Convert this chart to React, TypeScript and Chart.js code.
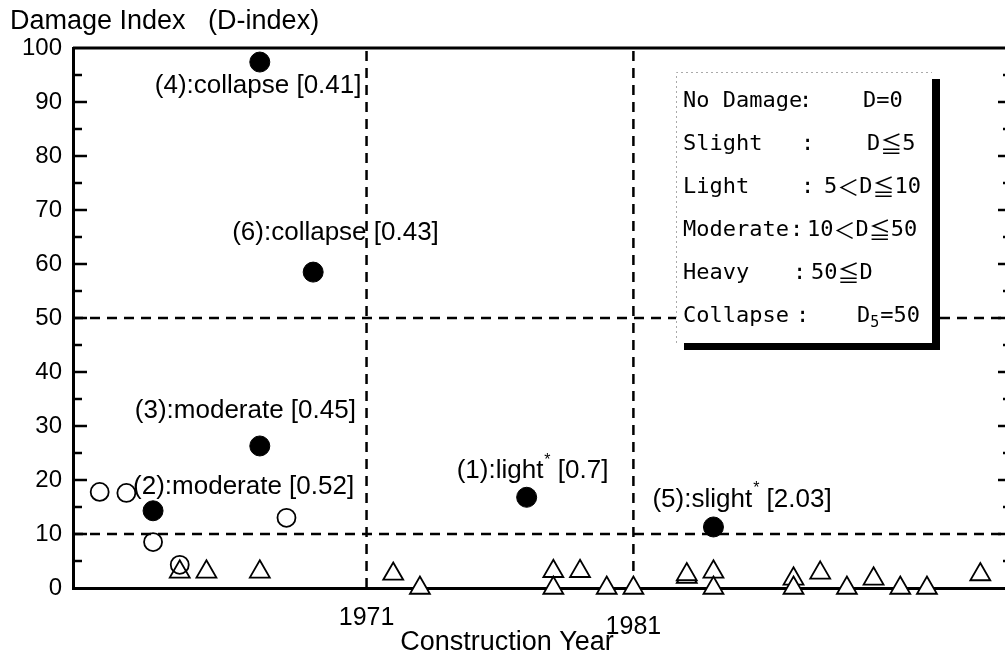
import React, { useEffect, useRef } from 'react';
import { Chart, registerables } from 'chart.js';

Chart.register(...registerables);

// ---------- data ----------
const X_MIN = 1960;
const X_MAX = 1995;
const X_TICKS = [1971, 1981];
const Y_MIN = 0;
const Y_MAX = 100;
const Y_STEP = 10;
const REF_YEARS = [1971, 1981];
const REF_D = [10, 50];

// damaged buildings (filled circles, labelled)
const SEVERE_YEARS = [1967, 1969, 1967, 1963, 1977, 1984];
const SEVERE_D = [97.4, 58.5, 26.3, 14.3, 16.8, 11.3];
const SEVERE_IDS = ['(4)', '(6)', '(3)', '(2)', '(1)', '(5)'];
const SEVERE_GRADES = ['collapse', 'collapse', 'moderate', 'moderate', 'light', 'slight'];
const SEVERE_STARRED = [false, false, false, false, true, true];
const SEVERE_RATIOS = ['0.41', '0.43', '0.45', '0.52', '0.7', '2.03'];

// open circles
const OPEN_YEARS = [1961, 1962, 1963, 1968, 1964];
const OPEN_D = [17.8, 17.6, 8.5, 13.0, 4.3];

// open triangles
const TRI_YEARS = [1964, 1965, 1967, 1972, 1973, 1978, 1978, 1979, 1980, 1981, 1983, 1983, 1984, 1984, 1987, 1987, 1988, 1989, 1990, 1991, 1992, 1994];
const TRI_D = [3.0, 3.0, 3.0, 2.6, 0, 3.1, 0, 3.1, 0, 0, 2.0, 2.5, 3.0, 0, 1.7, 0, 2.8, 0, 1.7, 0, 0, 2.5];

// legend text
const LEGEND_NAMES = ['No Damage', 'Slight', 'Light', 'Moderate', 'Heavy', 'Collapse'];
const LEGEND_RULES = ['D=0', 'D≦5', '5＜D≦10', '10＜D≦50', '50≦D', 'D₅=50'];

const Y_TITLE = 'Damage Index   (D-index)';
const X_TITLE = 'Construction Year';

// ---------- styles / layout ----------
const SANS = '"Liberation Sans", Arial, Helvetica, sans-serif';
const MONO = '"DejaVu Sans Mono", "Liberation Mono", monospace';
const CJK = '"Noto Sans CJK JP", "Noto Sans CJK SC", sans-serif';
const LABEL_OFFSETS: [number, number][] = [[-105, 24], [-81, -39], [-125, -35], [-20, -24], [-70, -26], [-61, -27]];
const LEGEND_COLON_X = [799, 801, 801, 790, 793, 796];
const LEGEND_RULE_X = [863, 867, 824, 807, 811, 857];

function drawMixed(ctx: CanvasRenderingContext2D, text: string, x: number, y: number, size: number) {
  let cx = x;
  for (const ch of Array.from(text)) {
    if (ch === '₅') {
      ctx.font = `${Math.round(size * 0.68)}px ${MONO}`;
      ctx.fillText('5', cx, y + 7);
      cx += ctx.measureText('5').width + 1;
      continue;
    }
    const wide = ch === '≦' || ch === '＜';
    ctx.font = wide ? `${size}px ${CJK}` : `${size}px ${MONO}`;
    ctx.fillText(ch, cx, y);
    cx += ctx.measureText(ch).width;
  }
}

const framePlugin = {
  id: 'frame',
  beforeDatasetsDraw(chart: any) {
    const { ctx, chartArea: a, scales } = chart;
    const x = scales.x;
    const y = scales.y;
    ctx.save();
    ctx.strokeStyle = '#000';
    ctx.lineWidth = 2.5;
    ctx.setLineDash([10, 7]);
    REF_D.forEach((v) => {
      const py = y.getPixelForValue(v);
      ctx.beginPath();
      ctx.moveTo(a.left, py);
      ctx.lineTo(a.right, py);
      ctx.stroke();
    });
    REF_YEARS.forEach((v) => {
      const px = x.getPixelForValue(v);
      ctx.beginPath();
      ctx.moveTo(px, a.bottom);
      ctx.lineTo(px, a.top);
      ctx.stroke();
    });
    ctx.setLineDash([]);
    ctx.lineWidth = 3;
    ctx.beginPath();
    ctx.moveTo(a.left, a.top);
    ctx.lineTo(a.right, a.top);
    ctx.stroke();
    ctx.lineWidth = 2.5;
    for (let v = Y_MIN + Y_STEP / 2; v < Y_MAX; v += Y_STEP / 2) {
      const major = Math.abs(v % Y_STEP) < 1e-6;
      const py = y.getPixelForValue(v);
      ctx.beginPath();
      ctx.moveTo(a.left, py);
      ctx.lineTo(a.left + (major ? 14 : 9), py);
      ctx.stroke();
      ctx.beginPath();
      ctx.moveTo(a.right, py);
      ctx.lineTo(a.right - (major ? 9 : 4), py);
      ctx.stroke();
    }
    ctx.restore();
  },
};

const pointLabelPlugin = {
  id: 'pointLabels',
  afterDatasetsDraw(chart: any) {
    const { ctx } = chart;
    const meta = chart.getDatasetMeta(0);
    ctx.save();
    ctx.fillStyle = '#000';
    ctx.textBaseline = 'middle';
    ctx.textAlign = 'left';
    meta.data.forEach((el: any, i: number) => {
      const [dx, dy] = LABEL_OFFSETS[i];
      let tx = el.x + dx;
      const ty = el.y + dy;
      ctx.font = `26px ${SANS}`;
      const head = `${SEVERE_IDS[i]}:${SEVERE_GRADES[i]}`;
      ctx.fillText(head, tx, ty);
      tx += ctx.measureText(head).width;
      if (SEVERE_STARRED[i]) {
        ctx.font = `16px ${SANS}`;
        ctx.fillText('*', tx + 1, ty - 11);
        tx += ctx.measureText('*').width + 1;
        ctx.font = `26px ${SANS}`;
      }
      ctx.fillText(` [${SEVERE_RATIOS[i]}]`, tx, ty);
    });
    ctx.restore();
  },
};

const legendBoxPlugin = {
  id: 'legendBox',
  afterDraw(chart: any) {
    const { ctx } = chart;
    const L = 676, T = 72, W = 256, H = 271;
    ctx.save();
    ctx.fillStyle = '#000';
    ctx.fillRect(L + W, T + 7, 8, H);
    ctx.fillRect(L + 8, T + H, W, 7);
    ctx.fillStyle = '#fff';
    ctx.fillRect(L, T, W, H);
    ctx.strokeStyle = '#aaa';
    ctx.lineWidth = 1;
    ctx.setLineDash([2, 3]);
    ctx.beginPath();
    ctx.moveTo(L + 0.5, T + H);
    ctx.lineTo(L + 0.5, T + 0.5);
    ctx.lineTo(L + W, T + 0.5);
    ctx.stroke();
    ctx.setLineDash([]);
    ctx.fillStyle = '#000';
    ctx.textBaseline = 'middle';
    ctx.textAlign = 'left';
    LEGEND_NAMES.forEach((name, i) => {
      const ty = 101 + i * 43;
      ctx.font = `22px ${MONO}`;
      ctx.fillText(name, 683, ty);
      ctx.fillText(':', LEGEND_COLON_X[i], ty);
      drawMixed(ctx, LEGEND_RULES[i], LEGEND_RULE_X[i], ty, 22);
    });
    ctx.restore();
  },
};

const axisTitlePlugin = {
  id: 'xAxisTitle',
  afterDraw(chart: any) {
    const { ctx } = chart;
    ctx.save();
    ctx.fillStyle = '#000';
    ctx.font = `27px ${SANS}`;
    ctx.textAlign = 'center';
    ctx.textBaseline = 'middle';
    ctx.fillText(X_TITLE, 507, 643);
    ctx.restore();
  },
};

export default function App() {
  const ref = useRef<HTMLCanvasElement>(null);

  useEffect(() => {
    const severe = SEVERE_YEARS.map((x, i) => ({ x, y: SEVERE_D[i] }));
    const open = OPEN_YEARS.map((x, i) => ({ x, y: OPEN_D[i] }));
    const tri = TRI_YEARS.map((x, i) => ({ x, y: TRI_D[i] }));

    const chart = new Chart(ref.current as HTMLCanvasElement, {
      type: 'scatter',
      data: {
        datasets: [
          {
            label: 'damaged',
            data: severe,
            pointStyle: 'circle',
            pointRadius: 10,
            backgroundColor: '#000',
            borderColor: '#000',
            borderWidth: 1,
            clip: false as any,
            order: 1,
          },
          {
            label: 'open circles',
            data: open,
            pointStyle: 'circle',
            pointRadius: 9,
            backgroundColor: 'rgba(255,255,255,0)',
            borderColor: '#000',
            borderWidth: 1.8,
            clip: false as any,
            order: 2,
          },
          {
            label: 'triangles',
            data: tri,
            pointStyle: 'triangle',
            pointRadius: 11.5,
            backgroundColor: '#fff',
            borderColor: '#000',
            borderWidth: 1.8,
            clip: false as any,
            order: 3,
          },
        ],
      },
      options: {
        responsive: false,
        animation: false,
        devicePixelRatio: 1,
        events: [],
        layout: { padding: { left: 10, right: 8, top: 0, bottom: 0 }, autoPadding: false } as any,
        plugins: {
          legend: { display: false },
          tooltip: { enabled: false },
          title: {
            display: true,
            text: Y_TITLE,
            align: 'start',
            color: '#000',
            font: { family: SANS, size: 27, weight: 'normal', lineHeight: 1.2 },
            padding: { top: 5, bottom: 10.6 },
          },
        },
        scales: {
          x: {
            type: 'linear',
            min: X_MIN,
            max: X_MAX,
            afterBuildTicks: (s: any) => {
              s.ticks = X_TICKS.map((v) => ({ value: v }));
            },
            afterFit: (s: any) => {
              s.height = 72;
            },
            grid: { display: false, drawTicks: false },
            border: { display: true, color: '#000', width: 3 },
            ticks: {
              color: '#000',
              padding: 15,
              autoSkip: false,
              maxRotation: 0,
              font: (c: any) => ({ family: SANS, size: 25, lineHeight: c.index === 1 ? 1.9 : 1.2 }),
              callback: (v: any) => String(v),
            },
          },
          y: {
            type: 'linear',
            min: Y_MIN,
            max: Y_MAX,
            afterFit: (s: any) => {
              s.width = 63;
            },
            grid: { display: false, drawTicks: false },
            border: { display: true, color: '#000', width: 3 },
            ticks: {
              stepSize: Y_STEP,
              color: '#000',
              padding: 11,
              font: { family: SANS, size: 24 },
              callback: (v: any) => String(v),
            },
          },
        },
      } as any,
      plugins: [framePlugin, pointLabelPlugin, legendBoxPlugin, axisTitlePlugin],
    });
    return () => chart.destroy();
  }, []);

  return (
    <div
      style={{
        position: 'fixed',
        left: 0,
        top: 0,
        width: 1005,
        height: 660,
        overflow: 'hidden',
        background: '#fff',
      }}
    >
      <canvas ref={ref} width={1015} height={660} style={{ display: 'block', width: 1015, height: 660 }} />
    </div>
  );
}
